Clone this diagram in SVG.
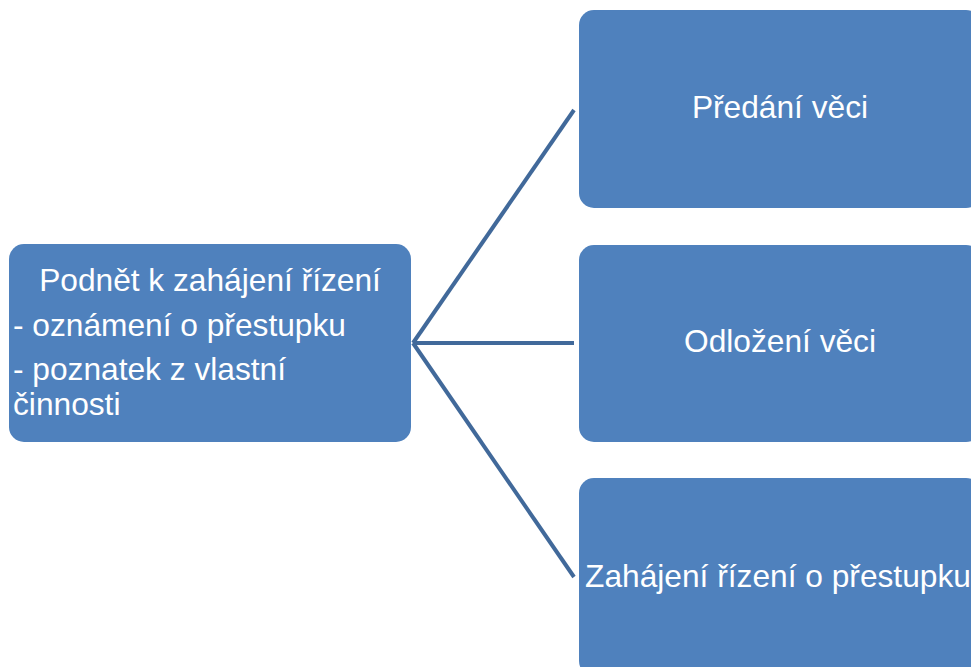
<svg xmlns="http://www.w3.org/2000/svg" width="971" height="667" viewBox="0 0 971 667">
<style>
.box{fill:#4f81bd;stroke:none}
.t{font-family:"Liberation Sans",Arial,sans-serif;font-size:31.7px;fill:#ffffff}
.c{text-anchor:middle}
.con{stroke:#41699a;stroke-width:4;fill:none}
</style>
<rect width="971" height="667" fill="#ffffff"/>
<g id="connectors">
<line class="con" x1="413" y1="343" x2="574" y2="110"/>
<line class="con" x1="413" y1="343" x2="574" y2="343"/>
<line class="con" x1="413" y1="343" x2="574" y2="577"/>
</g>
<g id="node-source">
<rect class="box" x="9" y="244" width="402" height="198" rx="15"/>
<text class="t c" x="210" y="291">Podnět k zahájení řízení</text>
<text class="t" x="13" y="336">- oznámení o přestupku</text>
<text class="t" x="13" y="380">- poznatek z vlastní</text>
<text class="t" x="13" y="415">činnosti</text>
</g>
<g id="node-predani">
<rect class="box" x="579" y="10" width="402" height="198" rx="15"/>
<text class="t c" x="780" y="118">Předání věci</text>
</g>
<g id="node-odlozeni">
<rect class="box" x="579" y="245" width="402" height="197" rx="15"/>
<text class="t c" x="780" y="352">Odložení věci</text>
</g>
<g id="node-zahajeni">
<rect class="box" x="579" y="478" width="402" height="198" rx="15"/>
<text class="t c" x="778" y="587">Zahájení řízení o přestupku</text>
</g>
</svg>
